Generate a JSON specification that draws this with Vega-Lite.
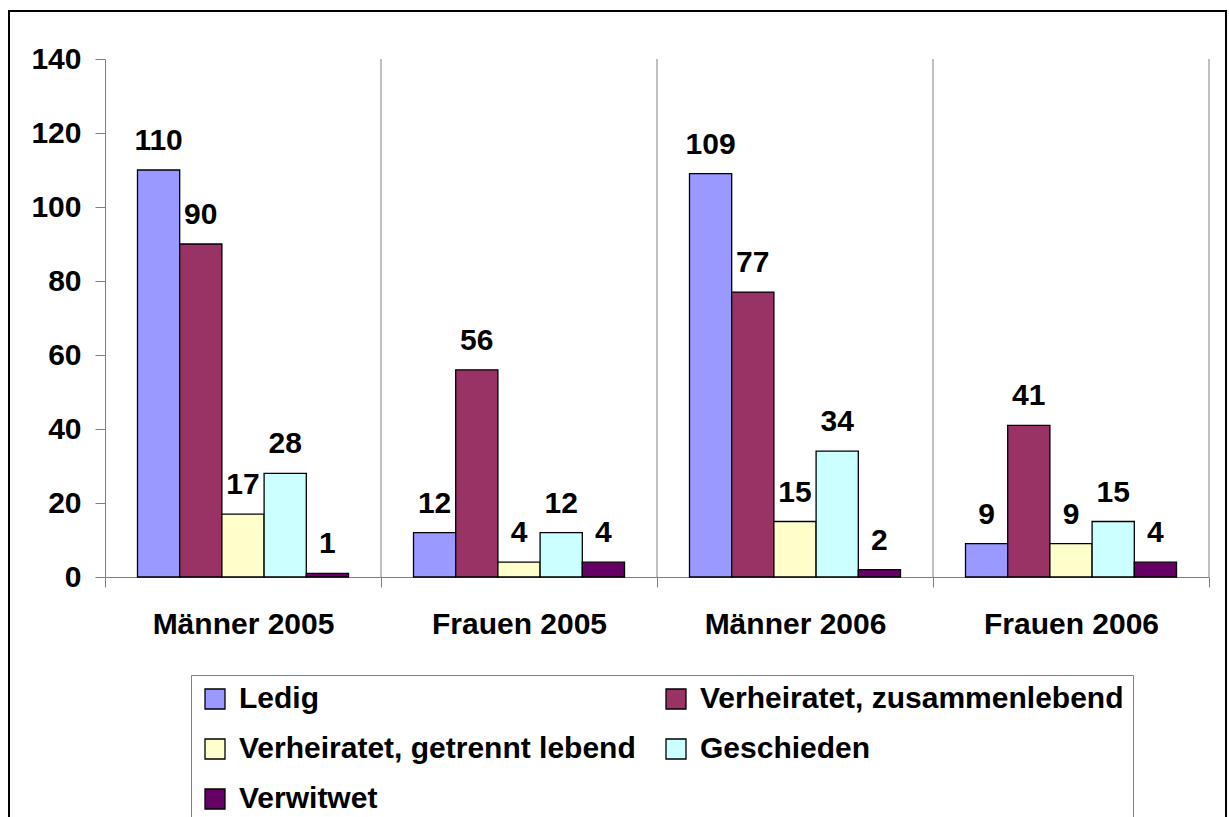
{
  "$schema": "https://vega.github.io/schema/vega-lite/v6.json",
  "width": 1217,
  "height": 808,
  "autosize": {"type": "none"},
  "padding": {"left": 9, "top": 11, "right": 3, "bottom": -2},
  "background": "white",
  "config": {
    "view": {"stroke": "black", "strokeWidth": 2},
    "font": "Liberation Sans",
    "axisY": {
      "offset": -96, "domainColor": "#808080", "tickColor": "#808080", "tickSize": 10,
      "labelFont": "Liberation Sans", "labelFontSize": 30, "labelFontWeight": "bold", "labelColor": "black",
      "labelPadding": 14, "grid": false, "title": null
    },
    "axisX": {
      "offset": -242, "domainColor": "#808080", "tickColor": "#808080", "tickSize": 10, "tickBand": "extent",
      "labelFont": "Liberation Sans", "labelFontSize": 30, "labelFontWeight": "bold", "labelColor": "black",
      "labelPadding": 22, "labelAngle": 0, "labelLimit": 400, "grid": false, "title": null
    }
  },
  "datasets": {
    "bars": [
      {"group": "Männer 2005", "status": "Ledig", "value": 110},
      {"group": "Männer 2005", "status": "Verheiratet, zusammenlebend", "value": 90},
      {"group": "Männer 2005", "status": "Verheiratet, getrennt lebend", "value": 17},
      {"group": "Männer 2005", "status": "Geschieden", "value": 28},
      {"group": "Männer 2005", "status": "Verwitwet", "value": 1},
      {"group": "Frauen 2005", "status": "Ledig", "value": 12},
      {"group": "Frauen 2005", "status": "Verheiratet, zusammenlebend", "value": 56},
      {"group": "Frauen 2005", "status": "Verheiratet, getrennt lebend", "value": 4},
      {"group": "Frauen 2005", "status": "Geschieden", "value": 12},
      {"group": "Frauen 2005", "status": "Verwitwet", "value": 4},
      {"group": "Männer 2006", "status": "Ledig", "value": 109},
      {"group": "Männer 2006", "status": "Verheiratet, zusammenlebend", "value": 77},
      {"group": "Männer 2006", "status": "Verheiratet, getrennt lebend", "value": 15},
      {"group": "Männer 2006", "status": "Geschieden", "value": 34},
      {"group": "Männer 2006", "status": "Verwitwet", "value": 2},
      {"group": "Frauen 2006", "status": "Ledig", "value": 9},
      {"group": "Frauen 2006", "status": "Verheiratet, zusammenlebend", "value": 41},
      {"group": "Frauen 2006", "status": "Verheiratet, getrennt lebend", "value": 9},
      {"group": "Frauen 2006", "status": "Geschieden", "value": 15},
      {"group": "Frauen 2006", "status": "Verwitwet", "value": 4}
    ],
    "groups": [
      {"group": "Männer 2005"},
      {"group": "Frauen 2005"},
      {"group": "Männer 2006"},
      {"group": "Frauen 2006"}
    ]
  },
  "layer": [
    {
      "data": {"name": "groups"},
      "mark": {"type": "rule", "color": "#808080", "strokeWidth": 1},
      "encoding": {
        "x": {"field": "group", "type": "nominal", "bandPosition": 1,
              "scale": {"domain": ["Männer 2005", "Frauen 2005", "Männer 2006", "Frauen 2006"], "range": [96, 1200], "paddingInner": 0, "paddingOuter": 0},
              "axis": null},
        "y": {"datum": 140, "type": "quantitative", "axis": null},
        "y2": {"datum": 0}
      }
    },
    {
      "data": {"name": "bars"},
      "mark": {"type": "bar", "stroke": "black", "strokeWidth": 1.3},
      "encoding": {
        "x": {"field": "group", "type": "nominal",
              "scale": {"domain": ["Männer 2005", "Frauen 2005", "Männer 2006", "Frauen 2006"], "range": [96, 1200], "paddingInner": 0, "paddingOuter": 0},
              "axis": {"title": null}},
        "xOffset": {"field": "status", "type": "nominal",
                    "scale": {"domain": ["Ledig", "Verheiratet, zusammenlebend", "Verheiratet, getrennt lebend", "Geschieden", "Verwitwet"], "paddingInner": 0, "paddingOuter": 0.77}},
        "y": {"field": "value", "type": "quantitative",
              "scale": {"domain": [0, 140], "range": [566, 48], "nice": false, "zero": true},
              "axis": {"title": null, "values": [0, 20, 40, 60, 80, 100, 120, 140]}},
        "color": {"field": "status", "type": "nominal",
                  "scale": {"domain": ["Ledig", "Verheiratet, zusammenlebend", "Verheiratet, getrennt lebend", "Geschieden", "Verwitwet"],
                            "range": ["#9999FF", "#993366", "#FFFFCC", "#CCFFFF", "#660066"]},
                  "legend": {"orient": "none", "legendX": 182, "legendY": 664, "columns": 2, "direction": "horizontal", "title": null,
                             "symbolType": "square", "symbolSize": 400, "symbolStrokeColor": "black", "symbolStrokeWidth": 1.3,
                             "symbolOpacity": 1,
                             "labelFont": "Liberation Sans", "labelFontSize": 30, "labelFontWeight": "bold", "labelColor": "black",
                             "labelLimit": 700, "labelOffset": 9, "rowPadding": 20, "columnPadding": 25, "padding": 9,
                             "strokeColor": "#808080", "fillColor": "white"}}
      }
    },
    {
      "data": {"name": "bars"},
      "mark": {"type": "text", "font": "Liberation Sans", "fontSize": 30, "fontWeight": "bold", "color": "black", "baseline": "alphabetic", "align": "center", "dy": -20},
      "encoding": {
        "x": {"field": "group", "type": "nominal", "axis": null},
        "xOffset": {"field": "status", "type": "nominal"},
        "y": {"field": "value", "type": "quantitative", "axis": null},
        "text": {"field": "value", "type": "quantitative"}
      }
    }
  ],
  "resolve": {"axis": {"x": "independent", "y": "independent"}}
}
